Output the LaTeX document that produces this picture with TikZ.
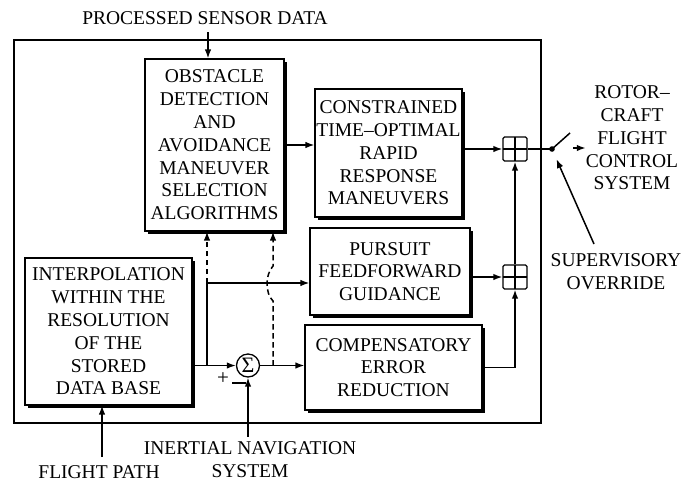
\documentclass[tikz,border=0pt]{standalone}
\usepackage{fontspec}
\setmainfont{Liberation Serif}
\usetikzlibrary{arrows.meta}
\begin{document}
\begin{tikzpicture}[x=1pt,y=-1pt,
  lbl/.style={font=\fontsize{19.5}{22.8}\selectfont, align=center, inner sep=0pt},
  blk/.style={lbl, draw, line width=1.1pt, fill=white,
    preaction={draw=none, fill=black, transform canvas={xshift=2.8pt, yshift=-2.8pt}}},
  ln/.style={line width=1.5pt},
  arr/.style={ln, -{Latex[length=9pt,width=6.5pt]}},
  dsh/.style={arr, dash pattern=on 5.5pt off 3.5pt},
  junc/.style={draw, line width=1.3pt, rounded corners=1.5pt, minimum size=24pt, inner sep=0pt,
    path picture={
      \draw[line width=1.3pt] (path picture bounding box.north) -- (path picture bounding box.south);
      \draw[line width=1.3pt] (path picture bounding box.west) -- (path picture bounding box.east);}},
]
\useasboundingbox (0,0) rectangle (687,483);

% outer frame of the guidance system
\draw[line width=1.2pt] (14,40) rectangle (541,423);

% processing blocks
\node[blk, minimum width=139pt, minimum height=172pt] (obs) at (214.5,145)
  {OBSTACLE\\DETECTION\\AND\\AVOIDANCE\\MANEUVER\\SELECTION\\ALGORITHMS};
\node[blk, minimum width=147pt, minimum height=128pt] (con) at (388.5,153)
  {CONSTRAINED\\TIME–OPTIMAL\\RAPID\\RESPONSE\\MANEUVERS};
\node[blk, minimum width=160pt, minimum height=87pt] (pur) at (390,271.5)
  {PURSUIT\\FEEDFORWARD\\GUIDANCE};
\node[blk, minimum width=177pt, minimum height=85pt] (com) at (393.5,367.5)
  {COMPENSATORY\\ERROR\\REDUCTION};
\node[blk, minimum width=167pt, minimum height=147pt] (int) at (108.5,331.5)
  {INTERPOLATION\\WITHIN THE\\RESOLUTION\\OF THE\\STORED\\DATA BASE};

% summing junctions
\node[junc] (j1) at (515,149) {};
\node[junc] (j2) at (515,277) {};
\node[draw, circle, line width=1.3pt, minimum size=23pt, inner sep=0pt,
  font=\fontsize{22}{22}\selectfont] (sig) at (248,365.5) {Σ};

% outside labels
\node[lbl] (ps) at (205,18) {PROCESSED SENSOR DATA};
\node[lbl] (fp) at (99,472) {FLIGHT PATH};
\node[lbl] (ins) at (250,460) {INERTIAL NAVIGATION\\SYSTEM};
\node[lbl] (rf) at (632,138) {ROTOR–\\CRAFT\\FLIGHT\\CONTROL\\SYSTEM};
\node[lbl] (so) at (616,272) {SUPERVISORY\\OVERRIDE};
\node[lbl, font=\fontsize{21}{21}\selectfont] (plus) at (223,379) {+};
\draw[ln] (232,383) -- (246,383);

% input feeds
\coordinate (pin) at (208,32);
\coordinate (fin) at (102,457);
\draw[arr] (pin) -- (pin |- obs.north);
\draw[arr] (fin) -- (fin |- int.south);
\draw[arr] ([xshift=-2pt,yshift=5pt]ins.north) -- (sig.south);

% branch points
\coordinate (br) at (207,365.5);
\coordinate (br2) at (207,283);
\coordinate (tp) at (273,365.5);

% main signal flow
\draw[arr] (int.east |- sig) -- (sig.west);
\draw[ln] (br) -- (br2);
\draw[arr] (br2) -- (br2 -| pur.west);
\draw[arr] (sig.east) -- (sig.east -| com.west);
\draw[arr] (obs.east) -- (obs.east -| con.west);
\draw[arr] (con.east |- j1) -- (j1.west);
\draw[arr] (pur.east |- j2) -- (j2.west);
\draw[arr] (com.east) -| (j2.south);
\draw[arr] (j2.north) -- (j1.south);

% dashed paths into the obstacle algorithms
\draw[dsh] (br2) -- (br2 |- obs.south);
\draw[dsh] (tp) -- (273,301) .. controls (265,293) and (265,275) .. (273,266) -- (273,266 |- obs.south);

% output switch
\coordinate (sw) at (552,149);
\coordinate (bl) at (570,133);
\coordinate (oa) at (573,148);
\coordinate (ovr) at (594,244);
\draw[ln] (j1.east) -- (sw);
\fill (sw) circle (2.8pt);
\draw[ln] (sw) -- (bl);
\draw[arr] (oa) -- (oa -| rf.west);
\draw[arr, shorten >=11pt] (ovr) -- (sw);
\end{tikzpicture}
\end{document}
